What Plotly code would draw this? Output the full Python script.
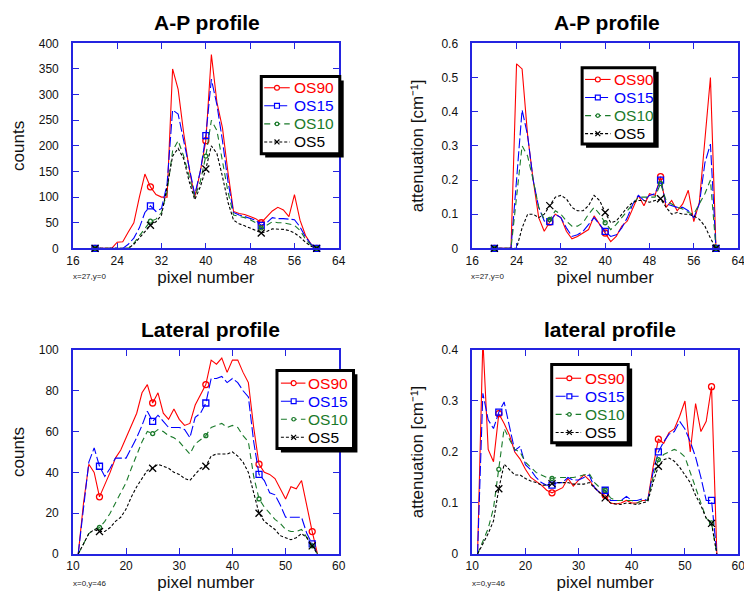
import plotly.graph_objects as go

# The page body has an 8px default margin, so the figure is drawn 8px right/down.
OX, OY = 8, 8
W, H = 744, 595
FONT = "Arial, Liberation Sans, sans-serif"
BLUE_FRAME = "#2424e0"

series_names = ["OS90", "OS15", "OS10", "OS5"]
series_colors = ["#ff0000", "#0000ff", "#1a7a2a", "#000000"]
series_dash = ["solid", "10px,3px", "6px,4px", "3px,2px"]
series_symbols = ["circle-open", "square-open", "circle-open", "x-thin-open"]
series_msize = [6, 6, 4, 7]

# ---------------- A-P profile (pixels 20..60) ----------------
ap_x = list(range(20, 61))
ap_markers = [20, 30, 40, 50, 60]

ap_counts_os90 = [0, 0, 0, 0, 12, 13, 32, 50, 100, 145, 120, 105, 100, 100, 350, 310, 225, 155, 100, 150,
                  210, 378, 285, 235, 148, 72, 68, 66, 62, 58, 50, 62, 73, 80, 75, 62, 105, 55, 25, 8, 0]
ap_counts_os15 = [0, 0, 0, 0, 0, 0, 8, 20, 40, 70, 83, 72, 78, 125, 270, 262, 210, 160, 105, 150,
                  220, 330, 280, 210, 130, 70, 65, 62, 58, 55, 45, 50, 60, 58, 58, 57, 56, 42, 22, 8, 0]
ap_counts_os10 = [0, 0, 0, 0, 0, 0, 0, 10, 25, 40, 53, 57, 70, 110, 190, 210, 180, 140, 100, 130,
                  180, 250, 230, 170, 110, 65, 63, 60, 56, 50, 40, 45, 52, 50, 50, 48, 45, 35, 18, 6, 0]
ap_counts_os5 = [0, 0, 0, 0, 0, 0, 0, 8, 20, 33, 45, 52, 65, 120, 180, 195, 175, 130, 95, 120,
                 155, 200, 185, 140, 90, 55, 48, 44, 40, 35, 30, 33, 38, 38, 37, 35, 30, 22, 12, 4, 0]

ap_att_os90 = [0, 0, 0, 0, 0.54, 0.525, 0.33, 0.2, 0.09, 0.05, 0.077, 0.1, 0.09, 0.05, 0.028, 0.035, 0.045, 0.055, 0.095, 0.07,
               0.045, 0.02, 0.035, 0.065, 0.08, 0.12, 0.155, 0.125, 0.16, 0.155, 0.21, 0.12, 0.14, 0.11, 0.13, 0.17, 0.078, 0.135, 0.32, 0.5, 0]
ap_att_os15 = [0, 0, 0, 0, 0.2, 0.405, 0.33, 0.2, 0.12, 0.08, 0.078, 0.1, 0.09, 0.06, 0.035, 0.04, 0.05, 0.07, 0.09, 0.07,
               0.05, 0.035, 0.04, 0.06, 0.09, 0.13, 0.155, 0.14, 0.155, 0.16, 0.2, 0.13, 0.125, 0.12, 0.12, 0.11, 0.09, 0.13, 0.25, 0.305, 0]
ap_att_os10 = [0, 0, 0, 0, 0.15, 0.3, 0.27, 0.2, 0.12, 0.085, 0.085, 0.11, 0.1, 0.08, 0.065, 0.065, 0.075, 0.1, 0.12, 0.1,
               0.075, 0.055, 0.07, 0.09, 0.11, 0.13, 0.15, 0.15, 0.15, 0.15, 0.19, 0.14, 0.13, 0.12, 0.115, 0.105, 0.1, 0.13, 0.16, 0.2, 0]
ap_att_os5 = [0, 0, 0, 0, 0, 0.06, 0.1, 0.1, 0.09, 0.1, 0.125, 0.15, 0.155, 0.145, 0.12, 0.11, 0.11, 0.125, 0.155, 0.14,
              0.105, 0.075, 0.08, 0.1, 0.12, 0.135, 0.14, 0.14, 0.135, 0.14, 0.145, 0.12, 0.1, 0.105, 0.1, 0.1, 0.095, 0.085, 0.065, 0.03, 0]

# ---------------- Lateral profile (pixels 11..56) ----------------
lat_x = list(range(11, 57))
lat_markers = [15, 25, 35, 45, 55]

lat_counts_os90 = [0, 25, 44, 40, 28, 34, 40, 47, 51, 57, 63, 69, 79, 83, 74, 79, 69, 66, 71, 66, 63, 64, 73,
                   78, 83, 95, 93, 96, 89, 95, 95, 89, 84, 62, 44, 40, 39, 37, 32, 27, 33, 32, 36, 23, 11, 0]
lat_counts_os15 = [0, 22, 45, 52, 43, 38, 42, 47, 47, 47, 52, 57, 63, 70, 65, 68, 65, 62, 62, 62, 61, 57, 67,
                   69, 74, 86, 86, 87, 84, 86, 84, 80, 77, 55, 39, 36, 30, 29, 24, 18, 18, 18, 18, 10, 5, 0]
lat_counts_os10 = [0, 5, 10, 12, 13, 16, 20, 25, 30, 35, 42, 49, 55, 60, 59, 61, 60, 58, 57, 55, 52, 49, 54,
                   56, 58, 62, 63, 64, 62, 63, 62, 58, 55, 38, 27, 23, 20, 17, 15, 12, 11, 11, 12, 8, 4, 0]
lat_counts_os5 = [0, 5, 10, 12, 11, 11, 13, 16, 18, 22, 28, 33, 37, 41, 42, 44, 43, 42, 40, 39, 37, 36, 39,
                  42, 43, 48, 49, 49, 49, 50, 48, 45, 40, 30, 20, 16, 14, 12, 9, 8, 7, 8, 10, 8, 4, 0]

lat_att_os90 = [0, 0.42, 0.205, 0.181, 0.275, 0.256, 0.233, 0.2, 0.186, 0.166, 0.15, 0.143, 0.135, 0.125, 0.12, 0.125,
                0.13, 0.148, 0.133, 0.145, 0.155, 0.145, 0.13, 0.12, 0.115, 0.1, 0.098, 0.1, 0.105, 0.1, 0.1, 0.105,
                0.105, 0.17, 0.225, 0.217, 0.238, 0.245, 0.27, 0.3, 0.2, 0.295, 0.24, 0.26, 0.328, 0]
lat_att_os15 = [0, 0.315, 0.263, 0.246, 0.278, 0.298, 0.25, 0.203, 0.211, 0.175, 0.165, 0.15, 0.14, 0.135, 0.135, 0.14,
                0.14, 0.15, 0.145, 0.145, 0.15, 0.155, 0.13, 0.12, 0.125, 0.105, 0.105, 0.105, 0.113, 0.105, 0.105, 0.108,
                0.105, 0.16, 0.2, 0.22, 0.235, 0.24, 0.26, 0.245, 0.22, 0.19, 0.15, 0.105, 0.105, 0]
lat_att_os10 = [0, 0.025, 0.05, 0.09, 0.166, 0.246, 0.225, 0.205, 0.2, 0.18, 0.17, 0.16, 0.155, 0.15, 0.148, 0.15,
                0.15, 0.15, 0.15, 0.152, 0.155, 0.158, 0.14, 0.13, 0.125, 0.11, 0.105, 0.105, 0.105, 0.105, 0.1, 0.105,
                0.105, 0.15, 0.185, 0.195, 0.2, 0.205, 0.2, 0.19, 0.16, 0.13, 0.1, 0.07, 0.061, 0]
lat_att_os5 = [0, 0.02, 0.04, 0.065, 0.128, 0.176, 0.165, 0.155, 0.155, 0.148, 0.143, 0.14, 0.135, 0.135, 0.138, 0.14,
               0.14, 0.14, 0.137, 0.137, 0.137, 0.14, 0.13, 0.12, 0.11, 0.1, 0.098, 0.097, 0.1, 0.098, 0.097, 0.1,
               0.103, 0.14, 0.172, 0.185, 0.188, 0.182, 0.17, 0.155, 0.14, 0.115, 0.095, 0.07, 0.06, 0]

panels = [
    dict(x=ap_x, marks=ap_markers, ys=[ap_counts_os90, ap_counts_os15, ap_counts_os10, ap_counts_os5]),
    dict(x=ap_x, marks=ap_markers, ys=[ap_att_os90, ap_att_os15, ap_att_os10, ap_att_os5]),
    dict(x=lat_x, marks=lat_markers, ys=[lat_counts_os90, lat_counts_os15, lat_counts_os10, lat_counts_os5]),
    dict(x=lat_x, marks=lat_markers, ys=[lat_att_os90, lat_att_os15, lat_att_os10, lat_att_os5]),
]

fig = go.Figure()
for pi, p in enumerate(panels):
    xa = "x" if pi == 0 else f"x{pi + 1}"
    ya = "y" if pi == 0 else f"y{pi + 1}"
    for si in range(4):
        ys = p["ys"][si]
        fig.add_trace(go.Scatter(
            x=p["x"], y=ys, mode="lines", name=series_names[si], showlegend=False,
            line=dict(color=series_colors[si], width=1.1, dash=series_dash[si]),
            xaxis=xa, yaxis=ya, hoverinfo="skip"))
        mx = [xv for xv in p["x"] if xv in p["marks"]]
        my = [yv for xv, yv in zip(p["x"], ys) if xv in p["marks"]]
        fig.add_trace(go.Scatter(
            x=mx, y=my, mode="markers", name=series_names[si], showlegend=False, cliponaxis=False,
            marker=dict(symbol=series_symbols[si], size=series_msize[si], color=series_colors[si],
                        line=dict(color=series_colors[si], width=1.3)),
            xaxis=xa, yaxis=ya))


def px_x(x):
    return (x - OX) / W


def px_y(y):
    return 1 - (y - OY) / H


# axis pixel frames (screen pixels): (left, right, top, bottom)
frames = [(67, 338, 37, 247), (474, 745, 37, 247), (67, 338, 351, 560), (474, 745, 351, 560)]
xranges = [[16, 64], [16, 64], [10, 60], [10, 60]]
xdticks = [8, 8, 10, 10]
yranges = [[0, 400], [0, 0.6], [0, 100], [0, 0.4]]
ydticks = [50, 0.1, 20, 0.1]
ytitles = ["counts", "attenuation [cm\u207b\u00b9]", "counts", "attenuation [cm\u207b\u00b9]"]
ystand = [10, 13, 10, 13]

common = dict(showline=True, linecolor=BLUE_FRAME, linewidth=1.5, mirror="ticks", ticks="inside",
              ticklen=6, tickwidth=1.2, tickcolor=BLUE_FRAME, showgrid=False, zeroline=False,
              tickfont=dict(size=12, color="#111111", family=FONT))

layout = dict(width=W, height=H, margin=dict(l=0, r=0, t=0, b=0), paper_bgcolor="white",
              plot_bgcolor="white", showlegend=False, font=dict(family=FONT))
for i, (l, r, t, b) in enumerate(frames):
    k = "" if i == 0 else str(i + 1)
    layout[f"xaxis{k}"] = dict(common, domain=[px_x(l), px_x(r)], range=xranges[i], dtick=xdticks[i],
                               tick0=xranges[i][0], anchor=f"y{k}",
                               title=dict(text="pixel number", font=dict(size=17, color="#111111"), standoff=3))
    layout[f"yaxis{k}"] = dict(common, domain=[px_y(b), px_y(t)], range=yranges[i], dtick=ydticks[i],
                               anchor=f"x{k}", ticklabelstandoff=10,
                               title=dict(text=ytitles[i], font=dict(size=17, color="#111111"), standoff=ystand[i]))
fig.update_layout(**layout)

annotations = []
shapes = []

# panel titles
titles = [("A-P profile", 204, 16), ("A-P profile", 611, 16), ("Lateral profile", 207, 330), ("lateral profile", 614, 330)]
for txt, cx, cy in titles:
    annotations.append(dict(text=txt, x=px_x(cx), y=px_y(cy), xref="paper", yref="paper",
                            xanchor="center", yanchor="middle", showarrow=False,
                            font=dict(size=21, color="black", family=FONT, weight="bold")))

# small cursor notes
notes = [("x=27,y=0", 65, 276), ("x=27,y=0", 471, 276), ("x=0,y=46", 65, 590), ("x=0,y=46", 472, 590)]
for txt, lx, cy in notes:
    annotations.append(dict(text=txt, x=px_x(lx), y=px_y(cy), xref="paper", yref="paper",
                            xanchor="left", yanchor="middle", showarrow=False,
                            font=dict(size=8, color="#222222", family=FONT)))

# legends: box (x0, y0, x1, y1), row centres, line x0, line x1, marker x, text x
legends = [
    ((259, 71, 339, 150), [82.5, 101, 119.5, 138], 262, 288, 275, 290),
    ((586, 62, 660, 140), [74, 92.5, 111, 129.5], 589, 615, 602, 616),
    ((275, 372, 353, 452), [385, 403.5, 422, 440.5], 279, 304, 292, 305),
    ((555, 366, 633, 446), [380, 398.5, 417, 435.5], 559, 585, 573, 587),
]
for (x0, y0, x1, y1), rows, lx0, lx1, mxp, tx in legends:
    shapes.append(dict(type="rect", xref="paper", yref="paper", x0=px_x(x0 + 4), x1=px_x(x1 + 4),
                       y0=px_y(y0 + 4), y1=px_y(y1 + 4), fillcolor="black", line=dict(width=0)))
    shapes.append(dict(type="rect", xref="paper", yref="paper", x0=px_x(x0), x1=px_x(x1),
                       y0=px_y(y0), y1=px_y(y1), fillcolor="white", line=dict(color="black", width=3)))
    for si, cy in enumerate(rows):
        col = series_colors[si]
        shapes.append(dict(type="line", xref="paper", yref="paper", x0=px_x(lx0), x1=px_x(lx1),
                           y0=px_y(cy), y1=px_y(cy), line=dict(color=col, width=1.1, dash=series_dash[si])))
        r = 2.5 if si != 2 else 1.8
        if si in (0, 2):
            shapes.append(dict(type="circle", xref="paper", yref="paper", x0=px_x(mxp - r), x1=px_x(mxp + r),
                               y0=px_y(cy - r), y1=px_y(cy + r), fillcolor="white", line=dict(color=col, width=1.2)))
        elif si == 1:
            shapes.append(dict(type="rect", xref="paper", yref="paper", x0=px_x(mxp - r), x1=px_x(mxp + r),
                               y0=px_y(cy - r), y1=px_y(cy + r), fillcolor="white", line=dict(color=col, width=1.2)))
        else:
            path = (f"M{px_x(mxp - r)},{px_y(cy - r)} L{px_x(mxp + r)},{px_y(cy + r)} "
                    f"M{px_x(mxp - r)},{px_y(cy + r)} L{px_x(mxp + r)},{px_y(cy - r)}")
            shapes.append(dict(type="path", xref="paper", yref="paper", path=path, line=dict(color=col, width=1.2)))
        annotations.append(dict(text=series_names[si], x=px_x(tx), y=px_y(cy), xref="paper", yref="paper",
                                xanchor="left", yanchor="middle", showarrow=False,
                                font=dict(size=15.5, color=col, family=FONT)))

fig.update_layout(annotations=annotations, shapes=shapes)
fig.write_html("out.html")
